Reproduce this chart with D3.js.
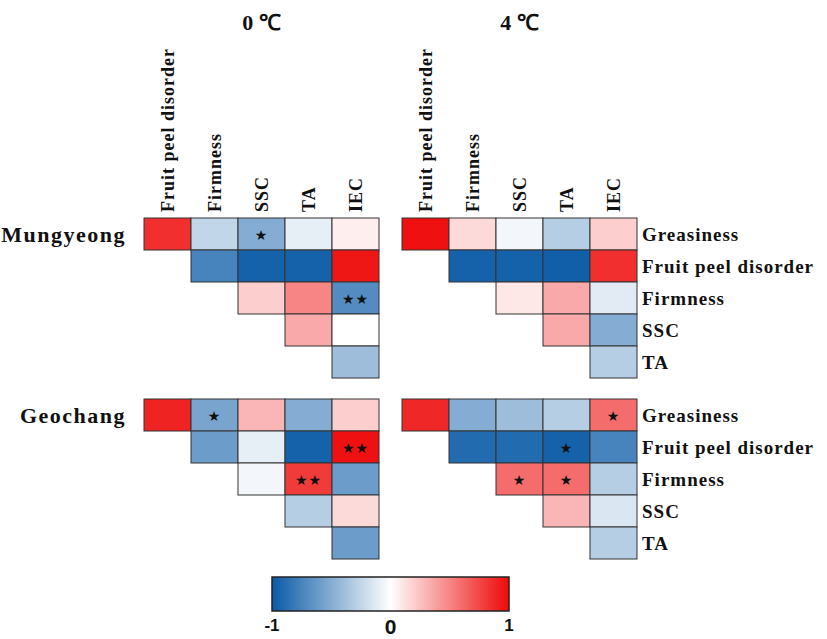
<!DOCTYPE html>
<html>
<head>
<meta charset="utf-8">
<script src="https://cdn.jsdelivr.net/npm/d3@7"></script>
<style>
  body { margin: 0; background: #fff; }
  svg text { font-family: "Liberation Serif", "Times New Roman", serif; font-weight: bold; fill: #111; }
</style>
</head>
<body>
<svg id="chart" width="827" height="639"></svg>
<script>
// Variables of the correlation matrix
const rowNames = ["Greasiness", "Fruit peel disorder", "Firmness", "SSC", "TA"];
const colNames = ["Fruit peel disorder", "Firmness", "SSC", "TA", "IEC"];
const temperatures = ["0 \u2103", "4 \u2103"];
const sites = ["Mungyeong", "Geochang"];

// correlation coefficients (upper triangle, null = empty)
const mungyeong0 = [
  [0.85, -0.25, -0.5, -0.1, 0.07],
  [null, -0.75, -0.95, -0.95, 0.95],
  [null, null, 0.2, 0.5, -0.7],
  [null, null, null, 0.35, 0.0],
  [null, null, null, null, -0.4]
];
const mungyeong4 = [
  [0.97, 0.15, -0.05, -0.3, 0.2],
  [null, -0.95, -0.95, -0.97, 0.85],
  [null, null, 0.1, 0.35, -0.12],
  [null, null, null, 0.35, -0.5],
  [null, null, null, null, -0.3]
];
const geochang0 = [
  [0.9, -0.55, 0.3, -0.5, 0.2],
  [null, -0.6, -0.1, -0.95, 0.97],
  [null, null, -0.05, 0.8, -0.6],
  [null, null, null, -0.3, 0.15],
  [null, null, null, null, -0.6]
];
const geochang4 = [
  [0.88, -0.5, -0.4, -0.3, 0.6],
  [null, -0.9, -0.9, -0.95, -0.75],
  [null, null, 0.6, 0.6, -0.3],
  [null, null, null, 0.3, -0.15],
  [null, null, null, null, -0.3]
];

// significance marks: 1 = *, 2 = **
const mungyeong0Sig = [[0,0,1,0,0],[0,0,0,0,0],[0,0,0,0,2],[0,0,0,0,0],[0,0,0,0,0]];
const mungyeong4Sig = [[0,0,0,0,0],[0,0,0,0,0],[0,0,0,0,0],[0,0,0,0,0],[0,0,0,0,0]];
const geochang0Sig  = [[0,1,0,0,0],[0,0,0,0,2],[0,0,0,2,0],[0,0,0,0,0],[0,0,0,0,0]];
const geochang4Sig  = [[0,0,0,0,1],[0,0,0,1,0],[0,0,1,1,0],[0,0,0,0,0],[0,0,0,0,0]];

const legendTicks = [-1, 0, 1];

const panels = [
  { values: mungyeong0, sig: mungyeong0Sig, col: 0, row: 0 },
  { values: mungyeong4, sig: mungyeong4Sig, col: 1, row: 0 },
  { values: geochang0, sig: geochang0Sig, col: 0, row: 1 },
  { values: geochang4, sig: geochang4Sig, col: 1, row: 1 }
];

const svg = d3.select("#chart");

const panelX = [144, 402];
const panelY = [218, 399];
const cellW = 47, cellH = 32;

const color = d3.scaleLinear()
  .domain([-1, 0, 1])
  .range(["#0a5aa6", "#ffffff", "#ee0a0a"]);

const x = d3.scaleBand().domain(colNames).range([0, cellW * colNames.length]);
const y = d3.scaleBand().domain(rowNames).range([0, cellH * rowNames.length]);

// draw each panel
panels.forEach(p => {
  const g = svg.append("g")
    .attr("transform", `translate(${panelX[p.col]},${panelY[p.row]})`);

  const cells = [];
  p.values.forEach((r, i) => r.forEach((v, j) => {
    if (v !== null) cells.push({ row: rowNames[i], col: colNames[j], v: v, sig: p.sig[i][j] });
  }));

  g.selectAll("rect")
    .data(cells)
    .enter().append("rect")
    .attr("x", d => x(d.col))
    .attr("y", d => y(d.row))
    .attr("width", x.bandwidth())
    .attr("height", y.bandwidth())
    .style("fill", d => color(d.v))
    .style("stroke", "#333")
    .style("stroke-width", 1);

  g.selectAll("text.sig")
    .data(cells.filter(d => d.sig > 0))
    .enter().append("text")
    .attr("class", "sig")
    .attr("x", d => x(d.col) + x.bandwidth() / 2)
    .attr("y", d => y(d.row) + y.bandwidth() / 2)
    .attr("dy", "0.4em")
    .attr("text-anchor", "middle")
    .style("font-family", "DejaVu Sans")
    .style("font-size", "14px")
    .style("letter-spacing", "1px")
    .text(d => d.sig === 2 ? "\u2605\u2605" : "\u2605");

  // column labels above the top panels
  if (p.row === 0) {
    g.selectAll("text.col")
      .data(colNames)
      .enter().append("text")
      .attr("class", "col")
      .attr("transform", d => `translate(${x(d) + x.bandwidth() / 2 + 6},-6) rotate(-90)`)
      .style("font-size", "18px")
      .style("letter-spacing", "1px")
      .text(d => d);

    svg.append("text")
      .attr("x", panelX[p.col] + cellW * 2.5)
      .attr("y", 30)
      .attr("text-anchor", "middle")
      .style("font-size", "22px")
      .text(temperatures[p.col]);
  }

  // row labels to the right of the 4 ℃ panels
  if (p.col === 1) {
    g.selectAll("text.row")
      .data(rowNames)
      .enter().append("text")
      .attr("class", "row")
      .attr("x", cellW * 5 + 5)
      .attr("y", d => y(d) + y.bandwidth() / 2)
      .attr("dy", "0.35em")
      .style("font-size", "19px")
      .style("letter-spacing", "1px")
      .text(d => d);
  }

  // site label to the left of the 0 ℃ panels
  if (p.col === 0) {
    svg.append("text")
      .attr("x", 126)
      .attr("y", panelY[p.row] + cellH / 2 + 8)
      .attr("text-anchor", "end")
      .style("font-size", "22px")
      .style("letter-spacing", "1.5px")
      .text(sites[p.row]);
  }
});

// colour bar
const legendX = d3.scaleLinear().domain([-1, 1]).range([272, 509]);
const defs = svg.append("defs");
const grad = defs.append("linearGradient").attr("id", "cbar");
d3.range(-1, 1.01, 0.1).forEach(t => {
  grad.append("stop")
    .attr("offset", ((t + 1) / 2 * 100) + "%")
    .attr("stop-color", color(t));
});

svg.append("rect")
  .attr("x", legendX(-1))
  .attr("y", 577)
  .attr("width", legendX(1) - legendX(-1))
  .attr("height", 34)
  .style("fill", "url(#cbar)")
  .style("stroke", "#222")
  .style("stroke-width", 1.5);

svg.selectAll("text.tick")
  .data(legendTicks)
  .enter().append("text")
  .attr("class", "tick")
  .attr("x", d => legendX(d))
  .attr("y", d => d === 0 ? 634 : 631)
  .attr("text-anchor", "middle")
  .style("font-family", "Liberation Sans, Arial, sans-serif")
  .style("font-size", d => d === 0 ? "21px" : "17px")
  .text(d => d);
</script>
</body>
</html>
